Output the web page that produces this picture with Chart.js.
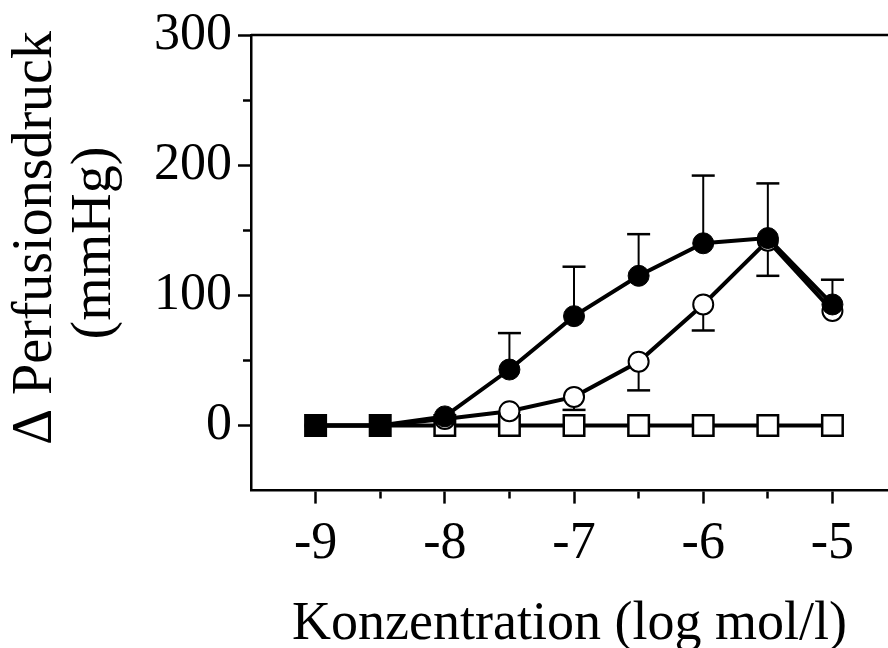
<!DOCTYPE html>
<html lang="de">
<head>
<meta charset="UTF-8">
<title>Perfusionsdruck</title>
<style>
  * { margin: 0; padding: 0; box-sizing: border-box; }
  body { width: 888px; height: 648px; background: #fff; overflow: hidden; }
</style>
</head>
<body>
<canvas id="chart" width="888" height="648"></canvas>

<script src="https://cdn.jsdelivr.net/npm/chart.js@4.4.1/dist/chart.umd.min.js"></script>
<script>
// concentrations (log mol/l)
const conc = [-9, -8.5, -8, -7.5, -7, -6.5, -6, -5.5, -5];

// filled circles, with upper error
const filledMean = [0, 0, 7, 43, 84, 115, 140, 144, 93];
const filledUpper = [null, null, null, 71, 122, 147, 192, 186, 112];

// open circles, with lower error
const openMean = [0, 0, 5, 11, 22, 49, 93, 142, 88];
const openLower = [null, null, null, null, 12, 27, 73, 115, null];

// open squares (first two drawn filled)
const squareMean = [0, 0, 0, 0, 0, 0, 0, 0, 0];
const squareFill = ["#000", "#000", "#fff", "#fff", "#fff", "#fff", "#fff", "#fff", "#fff"];

// axis ticks
const xTicks = [-9, -8.5, -8, -7.5, -7, -6.5, -6, -5.5, -5];
const yTicks = [0, 50, 100, 150, 200, 250, 300];

const serif = "'Liberation Serif', 'Times New Roman', serif";
const toPoints = (ys) => conc.map((c, i) => ({ x: c, y: ys[i] }));

// error bars drawn under the markers
const errorBars = {
    id: "errorBars",
    beforeDatasetsDraw(chart) {
        const { ctx, scales: { x, y } } = chart;
        ctx.save();
        ctx.strokeStyle = "#000";
        const draw = (means, ends) => {
            conc.forEach((c, i) => {
                if (ends[i] == null) return;
                const px = x.getPixelForValue(c);
                const y0 = y.getPixelForValue(means[i]);
                const y1 = y.getPixelForValue(ends[i]);
                ctx.lineWidth = 2;
                ctx.beginPath();
                ctx.moveTo(px, y0);
                ctx.lineTo(px, y1);
                ctx.stroke();
                ctx.lineWidth = 2.5;
                ctx.beginPath();
                ctx.moveTo(px - 11.5, y1);
                ctx.lineTo(px + 11.5, y1);
                ctx.stroke();
            });
        };
        draw(filledMean, filledUpper);
        draw(openMean, openLower);
        ctx.restore();
    }
};

// top frame line and the two-line y title
const frame = {
    id: "frame",
    afterDraw(chart) {
        const { ctx, chartArea } = chart;
        ctx.save();
        ctx.strokeStyle = "#000";
        ctx.lineWidth = 2.5;
        ctx.beginPath();
        ctx.moveTo(chartArea.left, chartArea.top);
        ctx.lineTo(chartArea.right, chartArea.top);
        ctx.stroke();

        ctx.fillStyle = "#000";
        ctx.font = "56px " + serif;
        ctx.textAlign = "center";
        ctx.textBaseline = "alphabetic";
        ctx.translate(51, 238);
        ctx.rotate(-Math.PI / 2);
        ctx.fillText("\u0394 Perfusionsdruck", 0, 0);
        ctx.fillText("(mmHg)", -5, 59);
        ctx.restore();
    }
};

new Chart(document.getElementById("chart"), {
    type: "line",
    data: {
        datasets: [
            {
                data: toPoints(filledMean),
                borderColor: "#000",
                borderWidth: 4,
                pointStyle: "circle",
                pointRadius: 10.5,
                pointBorderWidth: 1,
                pointBackgroundColor: "#000",
                pointBorderColor: "#000",
                tension: 0
            },
            {
                data: toPoints(openMean),
                borderColor: "#000",
                borderWidth: 4,
                pointStyle: "circle",
                pointRadius: 10,
                pointBorderWidth: 2,
                pointBackgroundColor: "#fff",
                pointBorderColor: "#000",
                tension: 0
            },
            {
                data: toPoints(squareMean),
                borderColor: "#000",
                borderWidth: 4,
                pointStyle: "rect",
                pointRadius: 14.5,
                pointBorderWidth: 2.5,
                pointBackgroundColor: squareFill,
                pointBorderColor: "#000",
                tension: 0
            }
        ]
    },
    options: {
        responsive: false,
        devicePixelRatio: 1,
        animation: false,
        layout: { autoPadding: false, padding: { left: 148, top: 35, right: 0, bottom: -4 } },
        plugins: {
            legend: { display: false },
            tooltip: { enabled: false }
        },
        scales: {
            x: {
                type: "linear",
                min: -9.5,
                max: -4.57,
                afterBuildTicks: (axis) => { axis.ticks = xTicks.map(v => ({ value: v })); },
                afterFit: (axis) => { axis.paddingLeft = 0; axis.paddingRight = 0; },
                ticks: {
                    color: "#000",
                    font: { family: serif, size: 52 },
                    padding: 10,
                    autoSkip: false,
                    maxRotation: 0,
                    callback: (v) => Number.isInteger(v) ? String(v) : ""
                },
                grid: {
                    drawOnChartArea: false,
                    tickLength: 13,
                    tickWidth: 2.5,
                    tickColor: "#000",
                    tickBorderDash: (ctx) => Number.isInteger(ctx.tick.value) ? [] : [7, 40]
                },
                border: { color: "#000", width: 2.5 },
                title: {
                    display: true,
                    text: "Konzentration (log mol/l)",
                    color: "#000",
                    font: { family: serif, size: 54, lineHeight: 1.0 },
                    padding: { top: 12, bottom: 0 }
                }
            },
            y: {
                min: -50,
                max: 300,
                afterBuildTicks: (axis) => { axis.ticks = yTicks.map(v => ({ value: v })); },
                afterFit: (axis) => { axis.paddingTop = 0; axis.paddingBottom = 0; },
                ticks: {
                    color: "#000",
                    font: { family: serif, size: 52 },
                    padding: 6,
                    callback: (v) => v % 100 === 0 ? String(v) : ""
                },
                grid: {
                    drawOnChartArea: false,
                    tickLength: 13,
                    tickWidth: 2.5,
                    tickColor: "#000",
                    tickBorderDash: (ctx) => ctx.tick.value % 100 === 0 ? [] : [0, 5, 8, 40]
                },
                border: { color: "#000", width: 2.5 }
            }
        }
    },
    plugins: [errorBars, frame]
});
</script>
</body>
</html>
